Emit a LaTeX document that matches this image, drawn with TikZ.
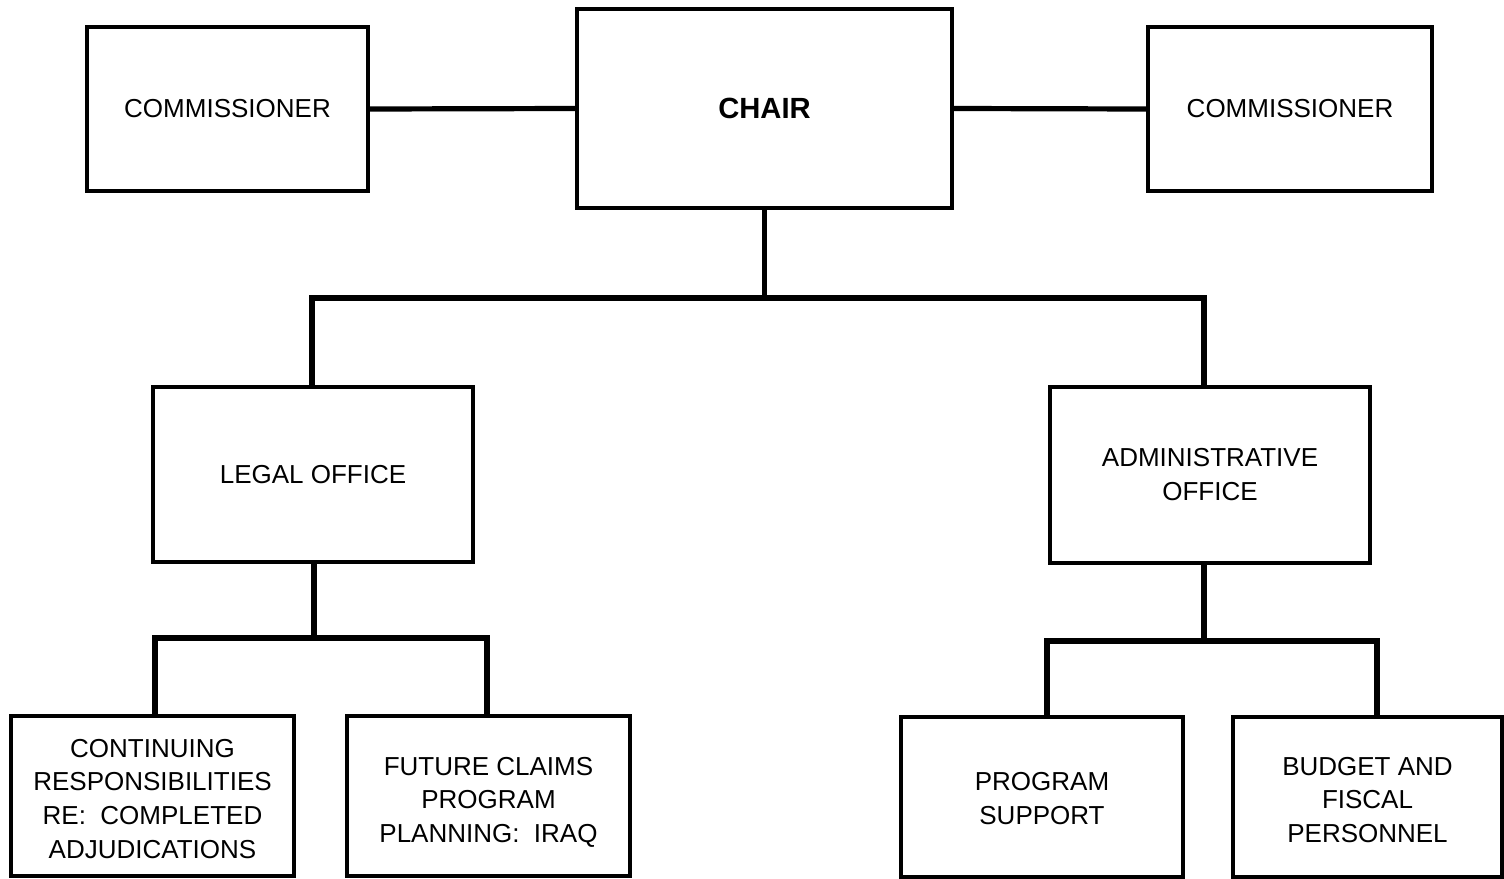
\documentclass[tikz,border=0pt]{standalone}
\usepackage{fontspec}
\setmainfont{Liberation Sans}
% centred lines, drawn a little lower than the box centre
\newcommand\lowered[2]{\raisebox{-#1}[\height][\depth]{\begin{tabular}{@{}c@{}}#2\end{tabular}}}
\begin{document}
\begin{tikzpicture}[x=0.5pt,y=-0.5pt,
  box/.style={draw,line width=1.8pt,rectangle,inner sep=0pt,align=center,
    font=\fontsize{13}{16.8}\selectfont},
  conn/.style={line width=2.6pt,line cap=rect}]
\useasboundingbox (0,0) rectangle (1504,878);

% top row
\node[box,minimum width=140.5pt,minimum height=82pt] (comL) at (227.5,109) {COMMISSIONER};
\node[box,minimum width=187.5pt,minimum height=99.5pt,font=\fontsize{14.6}{17}\selectfont\bfseries] (chair) at (764.5,108.5) {CHAIR};
\node[box,minimum width=142pt,minimum height=82pt] (comR) at (1290,109) {COMMISSIONER};

% offices
\node[box,minimum width=160pt,minimum height=87.5pt] (legal) at (313,474.5) {\lowered{1pt}{LEGAL OFFICE}};
\node[box,minimum width=160pt,minimum height=88pt] (admin) at (1210,475) {\lowered{1pt}{ADMINISTRATIVE\\OFFICE}};

% bottom row
\node[box,minimum width=141.5pt,minimum height=80pt] (cont) at (152.5,796) {\lowered{2.5pt}{CONTINUING\\RESPONSIBILITIES\\RE:\ \ COMPLETED\\ADJUDICATIONS}};
\node[box,minimum width=141.5pt,minimum height=80pt] (future) at (488.5,796) {\lowered{3pt}{FUTURE CLAIMS\\PROGRAM\\PLANNING:\ \ IRAQ}};
\node[box,minimum width=141pt,minimum height=80pt] (progsup) at (1042,797) {\lowered{2pt}{PROGRAM\\SUPPORT}};
\node[box,minimum width=134.5pt,minimum height=80pt] (budget) at (1367.5,797) {\lowered{2.5pt}{BUDGET AND\\FISCAL\\PERSONNEL}};

% bus junctions
\coordinate (busL) at (312,298);
\coordinate (busR) at (1204,298);
\coordinate (legL) at (155,638);
\coordinate (legR) at (487,638);
\coordinate (admL) at (1047,641);
\coordinate (admR) at (1377,641);

% connectors
\draw[conn] (comL.east) -- (chair.west);
\draw[conn] (chair.east) -- (comR.west);
\draw[conn] (chair.south) -- (chair.south |- busL);
\draw[conn] (legal.north -| busL) -- (busL) -- (busR) -- (admin.north -| busR);
\draw[conn] (legal.south -| 314,0) -- (314,638);
\draw[conn] (cont.north -| legL) -- (legL) -- (legR) -- (future.north -| legR);
\draw[conn] (admin.south -| busR) -- (admL -| busR);
\draw[conn] (progsup.north -| admL) -- (admL) -- (admR) -- (budget.north -| admR);
\end{tikzpicture}
\end{document}
